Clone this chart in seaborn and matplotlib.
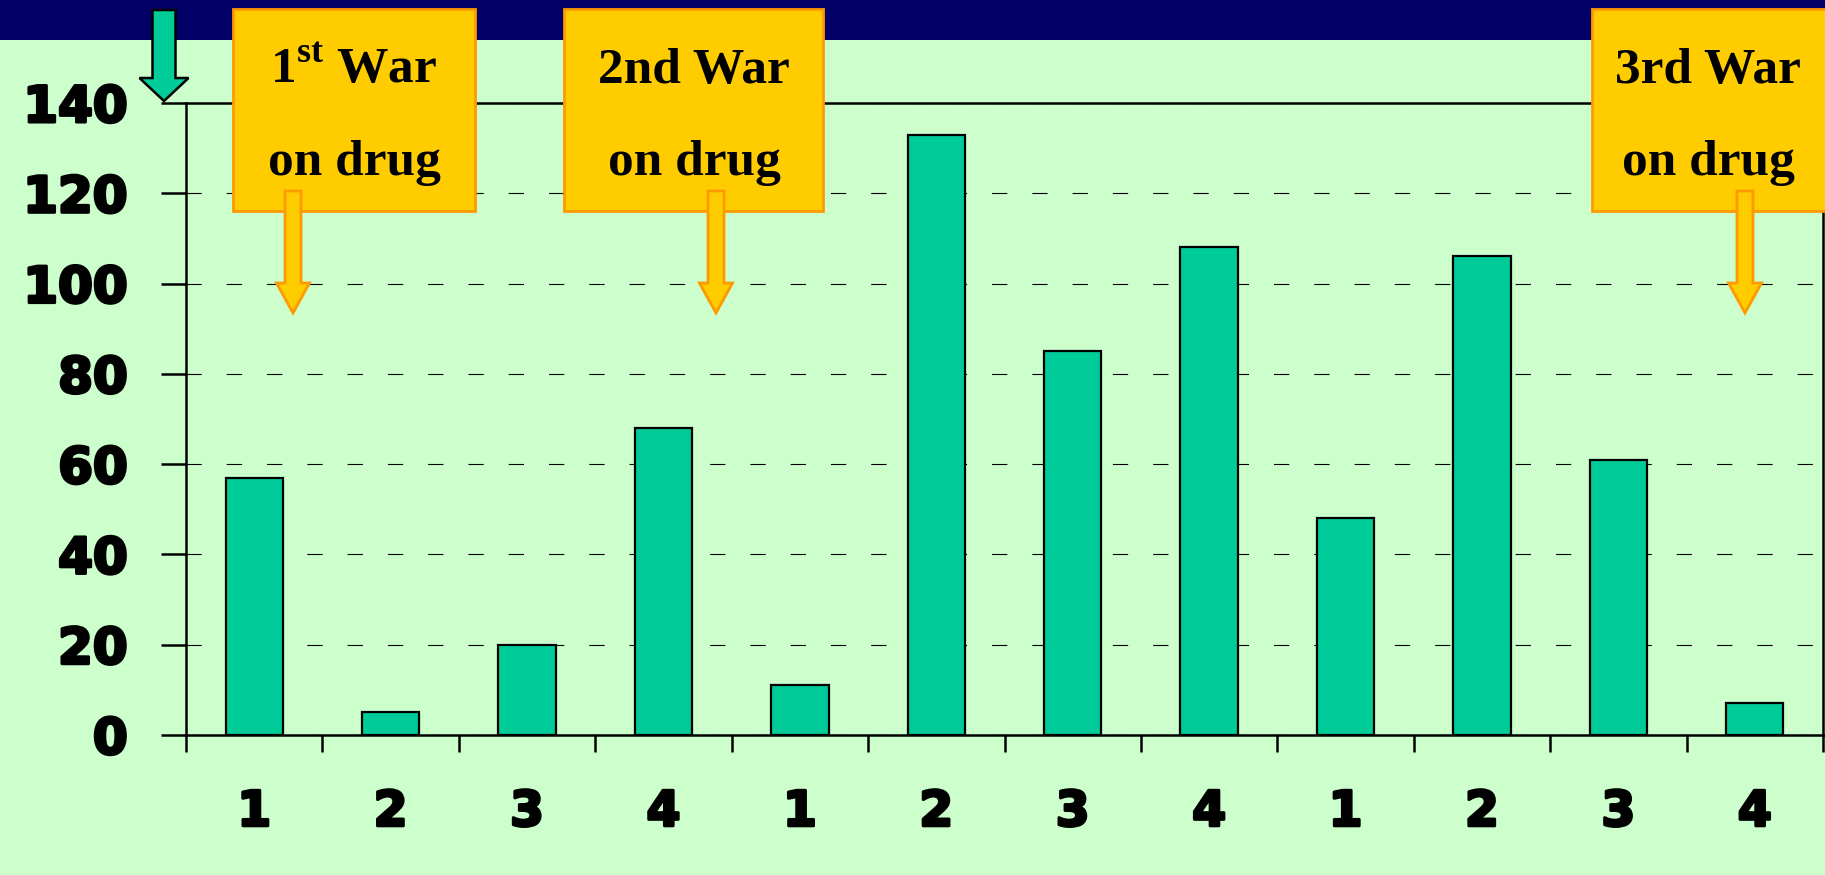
import numpy as np
import pandas as pd
import seaborn as sns
import matplotlib.pyplot as plt
import matplotlib.patheffects as pe
from matplotlib.patches import Rectangle, Polygon

# Data
quarters = ["1", "2", "3", "4", "1", "2", "3", "4", "1", "2", "3", "4"]
cases = [57, 5, 20, 68, 11, 133, 85, 108, 48, 106, 61, 7]
periods = [f"p{i}" for i in range(len(cases))]
y_ticks = [0, 20, 40, 60, 80, 100, 120, 140]
war_line1 = ["1$^{\\mathbf{st}}$ War", "2nd War", "3rd War"]
war_line2 = ["on drug", "on drug", "on drug"]

df = pd.DataFrame({"period": periods, "cases": cases})

sns.set_style("ticks")
plt.rcParams["font.family"] = ["DejaVu Sans"]
plt.rcParams["mathtext.fontset"] = "custom"
plt.rcParams["mathtext.bf"] = "Liberation Serif:bold"
plt.rcParams["mathtext.rm"] = "Liberation Serif:bold"
plt.rcParams["lines.scale_dashes"] = False
for key in ["text.color", "xtick.color", "ytick.color", "axes.labelcolor", "axes.edgecolor"]:
    plt.rcParams[key] = "black"

BG = "#CCFFCC"
BAR = "#00CC99"
NAVY = "#000066"
YELLOW = "#FFCC00"
ORANGE = "#FF9900"

W, H = 1825, 875
fig = plt.figure(figsize=(W / 100, H / 100), dpi=100, facecolor=BG)


def fpt(x, y):
    # pixel position (from top-left) -> figure fraction
    return (x / W, 1 - y / H)


# navy band on top
fig.patches.append(Rectangle(fpt(0, 40), 1, 40 / H, transform=fig.transFigure,
                             facecolor=NAVY, edgecolor="none", zorder=0))

ax = fig.add_axes([186 / W, 140 / H, (1823 - 186) / W, (735 - 103) / H])
ax.set_facecolor(BG)

sns.barplot(x="period", y="cases", data=df, color=BAR, saturation=1,
            edgecolor="black", linewidth=1.6, width=0.42, ax=ax, zorder=3)

ax.set_ylim(0, 140)
ax.set_xlim(-0.5, len(cases) - 0.5)
ax.set_yticks(y_ticks)
ax.set_yticklabels([str(v) for v in y_ticks], fontsize=36, fontweight="bold")
ax.set_xticks(range(len(cases)))
ax.set_xticklabels(quarters, fontsize=35, fontweight="bold")
ax.set_xticks(np.arange(-0.5, len(cases), 1), minor=True)
ax.tick_params(axis="x", which="major", length=0, pad=38)
ax.tick_params(axis="x", which="minor", length=12, width=1.8, direction="out")
ax.tick_params(axis="y", length=18, width=1.8, direction="out", pad=24)
ax.set_xlabel("")
ax.set_ylabel("")
heavy = [pe.withStroke(linewidth=2.2, foreground="black")]
for lab in ax.get_xticklabels() + ax.get_yticklabels():
    lab.set_path_effects(heavy)

ax.yaxis.grid(True, color="black", linewidth=0.8, linestyle=(0, (11, 18)))
ax.set_axisbelow(True)
for side in ["left", "right", "top", "bottom"]:
    ax.spines[side].set_visible(True)
    ax.spines[side].set_linewidth(1.8)
    ax.spines[side].set_color("black")


def down_arrow(cx, top, head_top, tip, shaft_w, head_w):
    return [fpt(cx - shaft_w / 2, top), fpt(cx + shaft_w / 2, top),
            fpt(cx + shaft_w / 2, head_top), fpt(cx + head_w / 2, head_top),
            fpt(cx, tip), fpt(cx - head_w / 2, head_top),
            fpt(cx - shaft_w / 2, head_top)]


# green arrow pointing at the axis top
fig.patches.append(Polygon(down_arrow(164, 10, 78, 101, 23, 49), closed=True,
                           transform=fig.transFigure, facecolor=BAR,
                           edgecolor="black", linewidth=1.8, zorder=5))

# callout boxes
box_left = [233, 564, 1592]
box_right = [475, 823, 1845]
text_x = [354, 694, 1708]
arrow_x = [293, 716, 1745]
for i in range(3):
    x0, y0 = fpt(box_left[i], 211)
    fig.patches.append(Rectangle((x0, y0), (box_right[i] - box_left[i]) / W, 202 / H,
                                 transform=fig.transFigure, facecolor=YELLOW,
                                 edgecolor=ORANGE, linewidth=2, zorder=6))
    fig.patches.append(Polygon(down_arrow(arrow_x[i], 191, 283, 313, 16, 33),
                               closed=True, transform=fig.transFigure,
                               facecolor=YELLOW, edgecolor=ORANGE,
                               linewidth=2, zorder=7))
    tx, ty = fpt(text_x[i], 83)
    fig.text(tx, ty, war_line1[i], ha="center", va="baseline", fontsize=37,
             fontweight="bold", family="Liberation Serif", color="black", zorder=8)
    tx, ty = fpt(text_x[i], 175)
    fig.text(tx, ty, war_line2[i], ha="center", va="baseline", fontsize=37,
             fontweight="bold", family="Liberation Serif", color="black", zorder=8)

fig.savefig("out.png", dpi=100, facecolor=BG)
